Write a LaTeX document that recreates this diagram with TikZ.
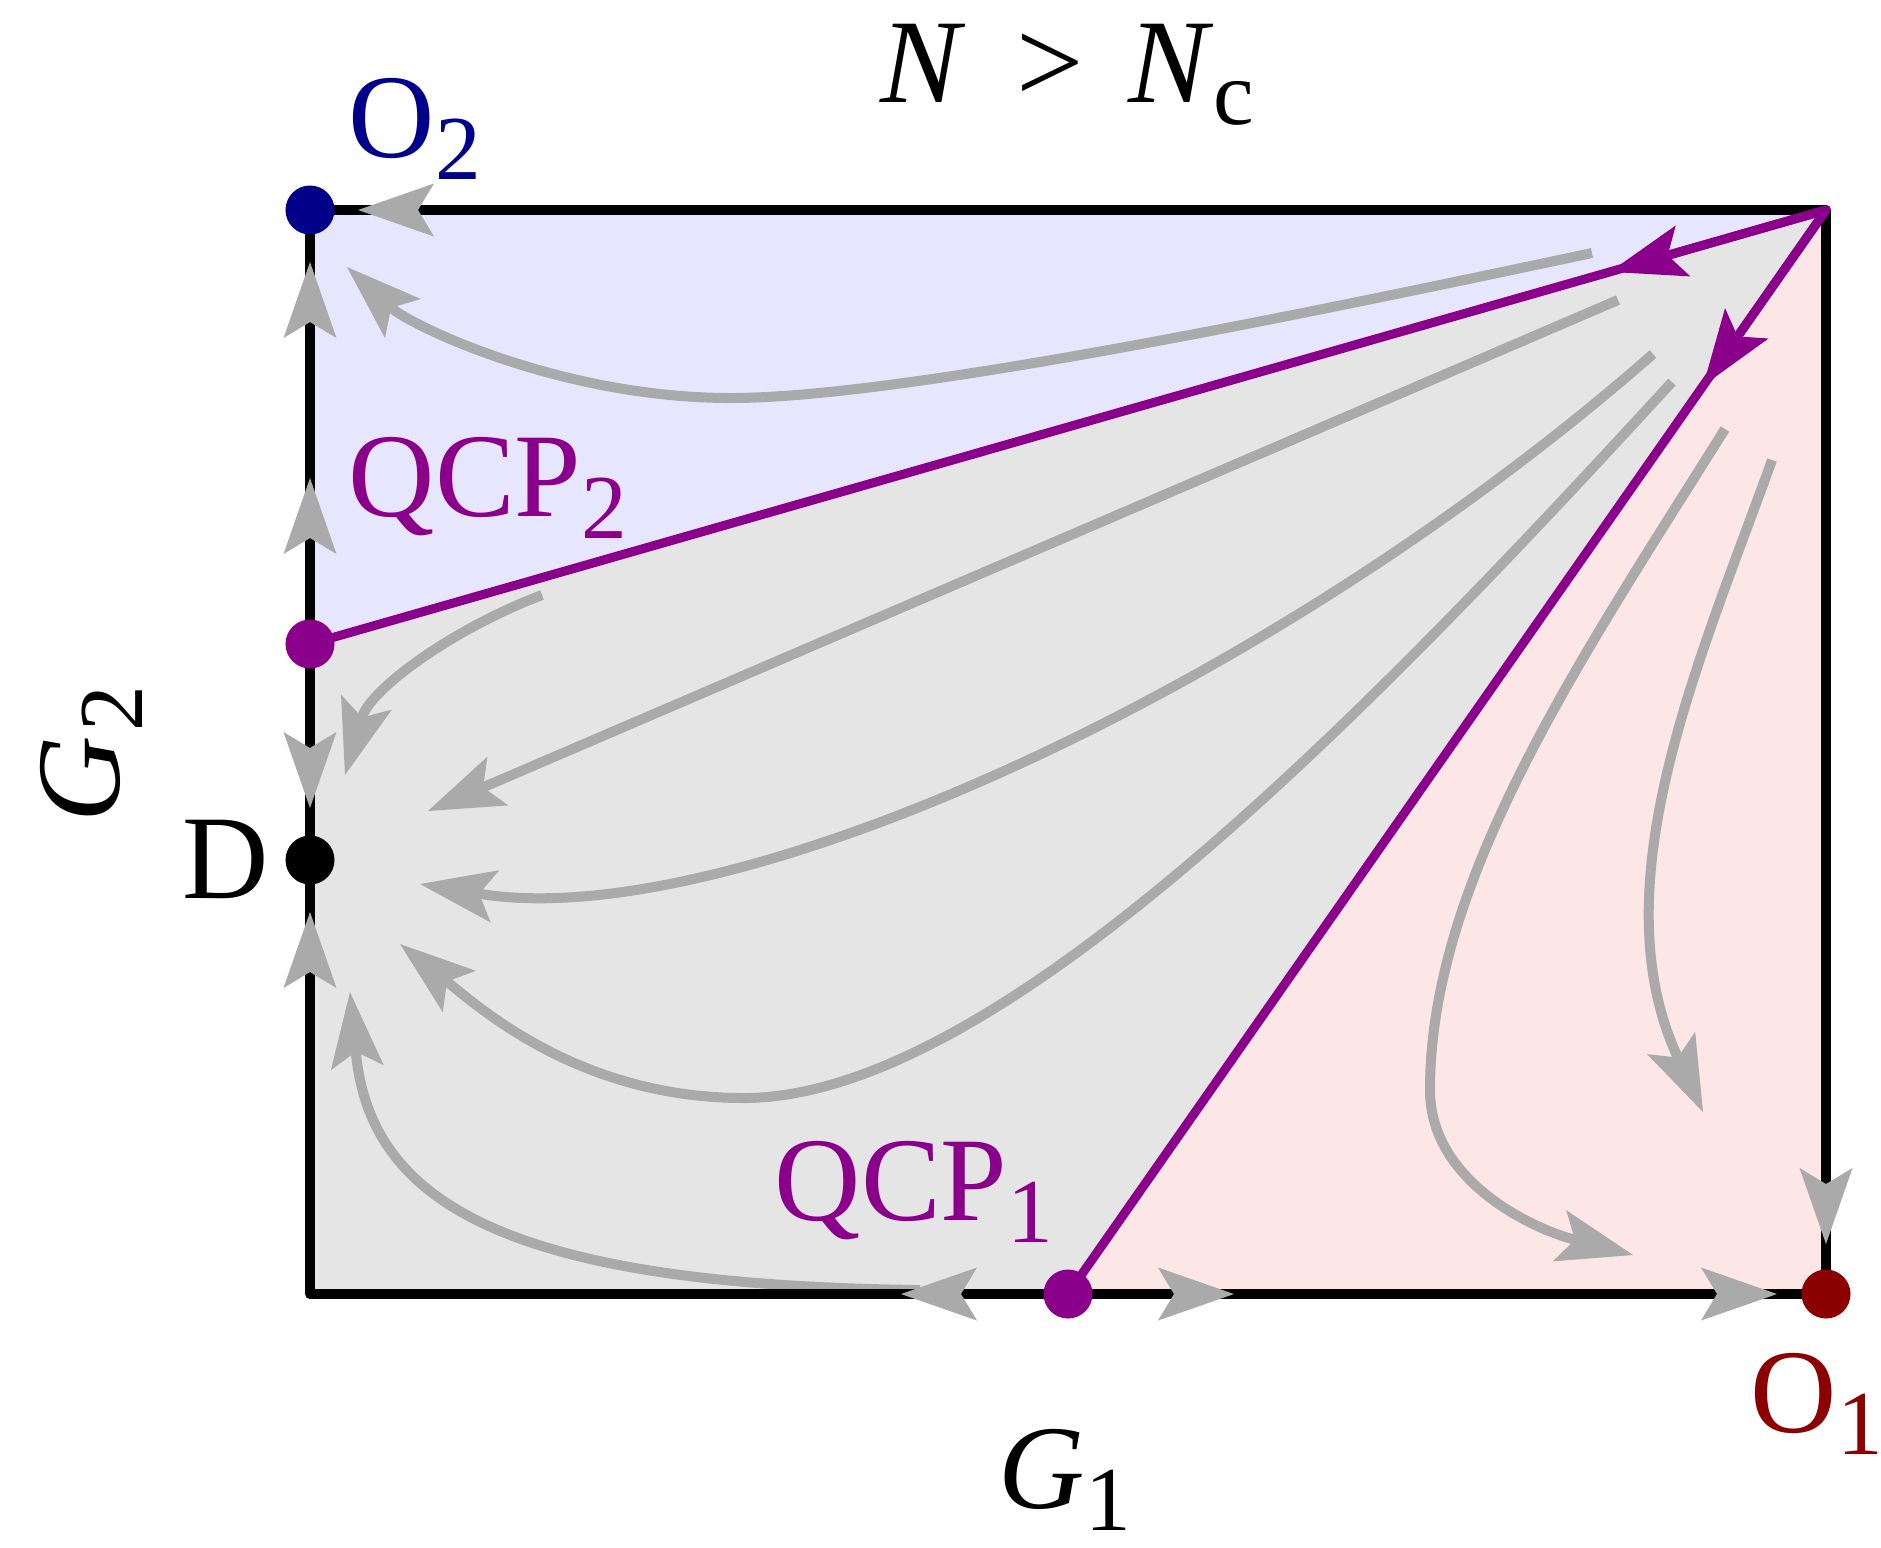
\documentclass[tikz,border=0pt]{standalone}
\usepackage{fontspec}
\setmainfont{Liberation Serif}
\usetikzlibrary{arrows.meta,calc}
\definecolor{bluefill}{RGB}{230,230,255}
\definecolor{grayfill}{RGB}{229,229,229}
\definecolor{pinkfill}{RGB}{253,230,230}
\definecolor{flowgray}{RGB}{170,170,170}
\definecolor{critpurple}{RGB}{139,0,139}
\definecolor{navyc}{RGB}{0,0,139}
\definecolor{darkredc}{RGB}{139,0,0}
\newcommand{\lsub}[1]{\raisebox{-0.22cm}{\fontsize{26pt}{26pt}\selectfont #1}}
\begin{document}
\begin{tikzpicture}[x=0.01cm,y=-0.01cm,
  tipshape/.style={-{Stealth[length=0.76cm,width=0.53cm,inset=0.16cm,line width=0pt]}},
  flow/.style={draw=flowgray,line width=0.1cm,line cap=butt,tipshape},
  gtip/.style={draw=flowgray,line width=0.1cm,tipshape},
  edge/.style={draw=black,line width=0.1cm,line join=round},
  crit/.style={draw=critpurple,line width=0.09cm,line join=round},
  ctip/.style={draw=critpurple,line width=0.09cm,tipshape},
  dot/.style={circle,inner sep=0pt,minimum size=0.49cm},
  lbl/.style={inner sep=0pt,anchor=base west,font=\fontsize{34pt}{40pt}\selectfont},
]
\useasboundingbox (0,0) rectangle (1881,1547);
% fixed points
\coordinate (O2) at (310,210);
\coordinate (TR) at (1826,210);
\coordinate (Q2) at (310,644);
\coordinate (D) at (310,860);
\coordinate (BL) at (310,1294);
\coordinate (Q1) at (1068,1294);
\coordinate (O1) at (1826,1294);
% regions
\fill[bluefill] (O2) -- (TR) -- (Q2) -- cycle;
\fill[grayfill] (Q2) -- (TR) -- (Q1) -- (BL) -- cycle;
\fill[pinkfill] (TR) -- (O1) -- (Q1) -- cycle;
% flow lines
\draw[flow] (1592,253) .. controls (1300,315) and (900,398) .. (731,398)
            .. controls (560,398) and (410,325) .. (347,267);
\draw[flow] (1618,300) -- (428,811);
\draw[flow] (1653,354) .. controls (1270,690) and (730,935) .. (420,884);
\draw[flow] (1672,382) .. controls (1380,700) and (1000,1098) .. (744,1098)
            .. controls (580,1098) and (480,1008) .. (400,944);
\draw[flow] (920,1290) .. controls (500,1285) and (370,1200) .. (350,992);
\draw[flow] (542,595) .. controls (450,630) and (370,690) .. (345,775);
\draw[flow] (1725,429) .. controls (1580,660) and (1430,880) .. (1430,1090)
            .. controls (1430,1180) and (1530,1228) .. (1633,1255);
\draw[flow] (1772,460) .. controls (1700,660) and (1598,885) .. (1703,1112);
% box
\draw[edge] (O2) -- (TR) -- (O1) -- (BL) -- cycle;
% critical lines
\draw[crit] (Q2) -- (TR) -- (Q1);
\draw[ctip] (TR) -- ($(TR)!0.1425!(Q2)$);
\draw[ctip] (TR) -- ($(TR)!0.162!(Q1)$);
% arrows on the edges
\draw[gtip] ($(O2)+(78,0)$) -- ($(O2)+(48,0)$);
\draw[gtip] ($(O2)+(0,82)$) -- ($(O2)+(0,52)$);
\draw[gtip] ($(Q2)+(0,-136)$) -- ($(Q2)+(0,-166)$);
\draw[gtip] ($(D)+(0,-82)$) -- ($(D)+(0,-52)$);
\draw[gtip] ($(D)+(0,82)$) -- ($(D)+(0,52)$);
\draw[gtip] ($(Q1)+(-137,0)$) -- ($(Q1)+(-167,0)$);
\draw[gtip] ($(Q1)+(136,0)$) -- ($(Q1)+(166,0)$);
\draw[gtip] ($(O1)+(-79,0)$) -- ($(O1)+(-49,0)$);
\draw[gtip] ($(O1)+(0,-80)$) -- ($(O1)+(0,-50)$);
% fixed point dots
\node[dot,fill=navyc] (dO2) at (O2) {};
\node[dot,fill=critpurple] (dQ2) at (Q2) {};
\node[dot,fill=black] (dD) at (D) {};
\node[dot,fill=critpurple] (dQ1) at (Q1) {};
\node[dot,fill=darkredc] (dO1) at (O1) {};
% labels
\node[lbl] (title) at (880,102) {\textit{N}\hspace{0.5cm}>\hspace{0.45cm}\textit{N}\lsub{c}};
\node[lbl,text=navyc] (lO2) at (348,157) {O\lsub{2}};
\node[lbl,text=critpurple] (lQ2) at (348,516) {QCP\lsub{2}};
\node[lbl] (lD) at (182,898) {D};
\node[lbl,text=critpurple] (lQ1) at (774,1220) {QCP\lsub{1}};
\node[lbl] (lG1) at (998,1508) {\textit{G}\lsub{1}};
\node[lbl,text=darkredc] (lO1) at (1750,1432) {O\lsub{1}};
\node[lbl,anchor=base,rotate=90] (lG2) at (120,754) {\textit{G}\hspace{0.05cm}\lsub{2}};
\end{tikzpicture}
\end{document}
